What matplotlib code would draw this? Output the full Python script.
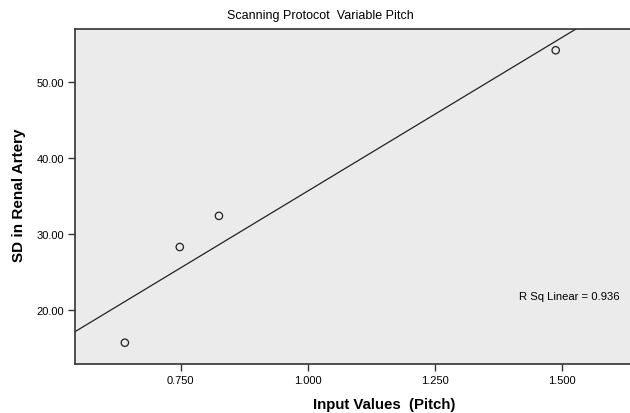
import matplotlib
matplotlib.use("Agg")
import matplotlib.pyplot as plt
import numpy as np

plt.rcParams["font.family"] = ["Liberation Sans", "DejaVu Sans"]

# data
pitch = [0.640, 0.748, 0.825, 1.487]
sd_renal = [15.7, 28.3, 32.4, 54.2]
x_ticks = [0.75, 1.00, 1.25, 1.50]
y_ticks = [20, 30, 40, 50]
r_sq_text = "R Sq Linear = 0.936"

W, H = 630, 414
fig = plt.figure(figsize=(W / 100, H / 100), dpi=100)
fig.patch.set_facecolor("white")

left, right, top, bottom = 75, 632, 30, 365
ax = fig.add_axes([left / W, 1 - bottom / H, (right - left) / W, (bottom - top) / H])
ax.set_facecolor("#ebebeb")

xlim = (0.542, 1.637)
ylim = (12.9, 57.0)

# fit line across the full x range
slope, intercept = np.polyfit(pitch, sd_renal, 1)
xs = np.array(xlim)
ax.plot(xs, slope * xs + intercept, color="#222222", lw=0.9, zorder=2)

ax.scatter(pitch, sd_renal, s=28, facecolors="none", edgecolors="#222222",
           linewidths=0.9, zorder=3)

ax.set_xlim(*xlim)
ax.set_ylim(*ylim)
ax.set_xticks(x_ticks)
ax.set_xticklabels([f"{v:.3f}" for v in x_ticks], fontsize=8)
ax.set_yticks(y_ticks)
ax.set_yticklabels([f"{v:.2f}" for v in y_ticks], fontsize=8)
ax.tick_params(length=5, width=1, color="#333333", pad=3)

for side in ("left", "bottom", "top"):
    ax.spines[side].set_color("#333333")
    ax.spines[side].set_linewidth(1.2)
ax.spines["right"].set_visible(False)

fig.text(384 / W, 1 - 405 / H, "Input Values  (Pitch)", ha="center", va="center",
         fontsize=10.8, fontweight="bold")
fig.text(19 / W, 1 - 195 / H, "SD in Renal Artery", ha="center", va="center",
         rotation=90, fontsize=11, fontweight="bold")
fig.text(320 / W, 1 - 16 / H, "Scanning Protocot  Variable Pitch",
         ha="center", va="center", fontsize=9)
fig.text(620 / W, 1 - 297 / H, r_sq_text, fontsize=8.1, ha="right", va="center")

fig.savefig("out.png", dpi=100)
